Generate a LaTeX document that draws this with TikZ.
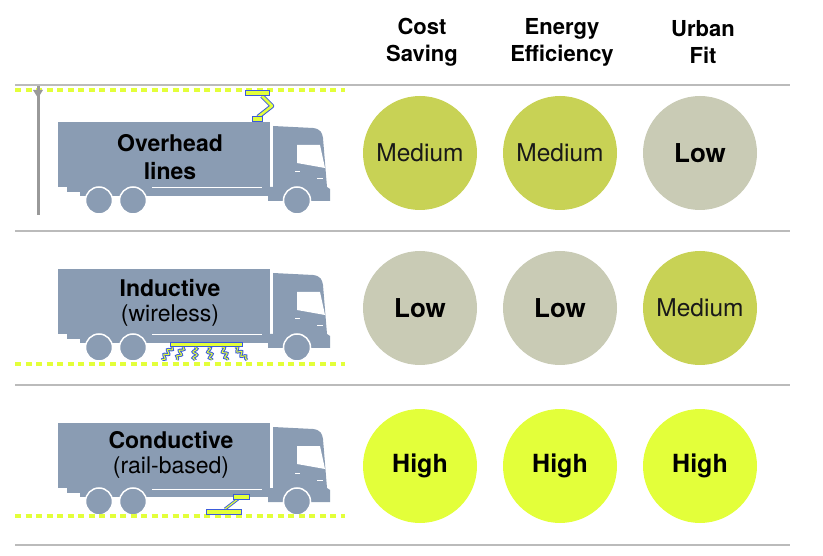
\documentclass[tikz,border=0pt]{standalone}
\usepackage{fontspec}
\setmainfont{TeX Gyre Heros}
\usepackage{tikz}
\usetikzlibrary{arrows.meta,decorations.pathmorphing}

\definecolor{truckblue}{HTML}{8A9CB3}
\definecolor{medgreen}{HTML}{C8D255}
\definecolor{lowgray}{HTML}{C9CBB5}
\definecolor{highlime}{HTML}{E3FF3A}
\definecolor{partblue}{HTML}{3B5BDB}
\definecolor{sepgray}{HTML}{BBBBBB}

\tikzset{
	sep/.style={sepgray, line width=1.5pt},
	road/.style={highlime, line width=3.5pt, dash pattern=on 6pt off 4.5pt},
	rating/.style={circle, minimum size=114pt, inner sep=0pt, font=\fontsize{24.5}{26}\selectfont},
	medium/.style={rating, fill=medgreen, text=black!90},
	low/.style={rating, fill=lowgray, font=\fontsize{26}{28}\selectfont\bfseries},
	high/.style={rating, fill=highlime, font=\fontsize{25}{28}\selectfont\bfseries},
	head/.style={align=center, font=\fontsize{22}{27}\selectfont\bfseries},
	label/.style={align=center, font=\fontsize{23}{25}\selectfont},
	part/.style={fill=highlime, draw=partblue, line width=1pt},
	wave/.style={decorate, decoration={snake, amplitude=2pt, segment length=6pt}},
}

\begin{document}
\begin{tikzpicture}[x=1pt, y=-1pt]
		\useasboundingbox (0, 0) rectangle (823, 556);

		\foreach \y in {85, 231, 385, 545} {
			\draw[sep] (15, \y) -- (790, \y);
		}

		% column heads
		\node[head] (cost) at (422, 42) {Cost\\Saving};
		\node[head] (energy) at (562, 42) {Energy\\Efficiency};
		\node[head] (urban) at (703, 42) {Urban\\Fit};

		% trucks
		\foreach \dy in {0, 147, 301} {
			\begin{scope}[shift={(0, \dy)}]
				\fill[truckblue] (58, 122) rectangle (270, 187);
				\fill[truckblue] (67, 187) rectangle (270, 192);
				\fill[truckblue] (80, 192) rectangle (268, 196);
				\fill[truckblue] (273, 126) -- (313, 128) .. controls (321, 129) and (322, 133) .. (323, 138)
					-- (327, 187) -- (330, 189) -- (330, 201) -- (268, 201) -- (268, 187) -- (273, 187) -- cycle;
				\fill[white] (297, 145) -- (320, 145) -- (325, 168) -- (297, 163) -- cycle;
				\draw[white, line width=1pt] (152, 188) -- (262, 188);
				\draw[white, line width=1pt] (295, 172) -- (300, 172);
				\draw[white, line width=1pt] (317, 179) -- (323, 179);
				\foreach \wx in {99, 133, 297} {
					\draw[white, line width=1.5pt, fill=truckblue] (\wx, 200.5) circle (13.5);
				}
			\end{scope}
		}

		% overhead lines
		\draw[road] (15, 90) -- (345, 90);
		\draw[gray!80, line width=3pt] (38, 86) -- (38, 215);
		\fill[gray!80] (33, 90) -- (43, 90) -- (38, 98) -- cycle;
		\draw[partblue, line width=4.5pt, line join=round] (262, 96) -- (272, 106) -- (258, 117);
		\draw[highlime, line width=2.5pt, line join=round] (262, 96) -- (272, 106) -- (258, 117);
		\draw[part] (245, 91) rectangle (269, 96);
		\draw[part] (252, 117) rectangle (262, 122);
		\node[label, font=\fontsize{23}{28}\selectfont\bfseries] (overhead) at (170, 157) {Overhead\\lines};

		% inductive
		\draw[road] (15, 364) -- (345, 364);
		\foreach \xa/\xb in {172/162, 183/177, 195/195, 208/212, 222/228, 235/247} {
			\draw[partblue, line width=3pt, wave] (\xa, 347) -- (\xb, 360);
			\draw[highlime, line width=1pt, wave] (\xa, 347) -- (\xb, 360);
		}
		\draw[part] (170, 343) rectangle (242, 347);
		\node[label] (inductive) at (170, 303) {\textbf{Inductive}\\(wireless)};

		% conductive
		\draw[road] (15, 516) -- (345, 516);
		\draw[partblue, line width=3pt] (238, 499) -- (225, 509);
		\draw[highlime, line width=1.2pt] (238, 499) -- (225, 509);
		\draw[part] (233, 494) rectangle (249, 499);
		\draw[part] (206, 509) rectangle (241, 514);
		\node[label] (conductive) at (171, 455) {\textbf{Conductive}\\(rail-based)};

		% ratings
		\node[medium] (oh-cost) at (420, 153) {Medium};
		\node[medium] (oh-energy) at (560, 153) {Medium};
		\node[low] (oh-urban) at (700, 153) {Low};
		\node[low] (ind-cost) at (420, 308) {Low};
		\node[low] (ind-energy) at (560, 308) {Low};
		\node[medium] (ind-urban) at (700, 308) {Medium};
		\node[high] (con-cost) at (420, 466) {High};
		\node[high] (con-energy) at (560, 466) {High};
		\node[high] (con-urban) at (700, 466) {High};
	\end{tikzpicture}
\end{document}
